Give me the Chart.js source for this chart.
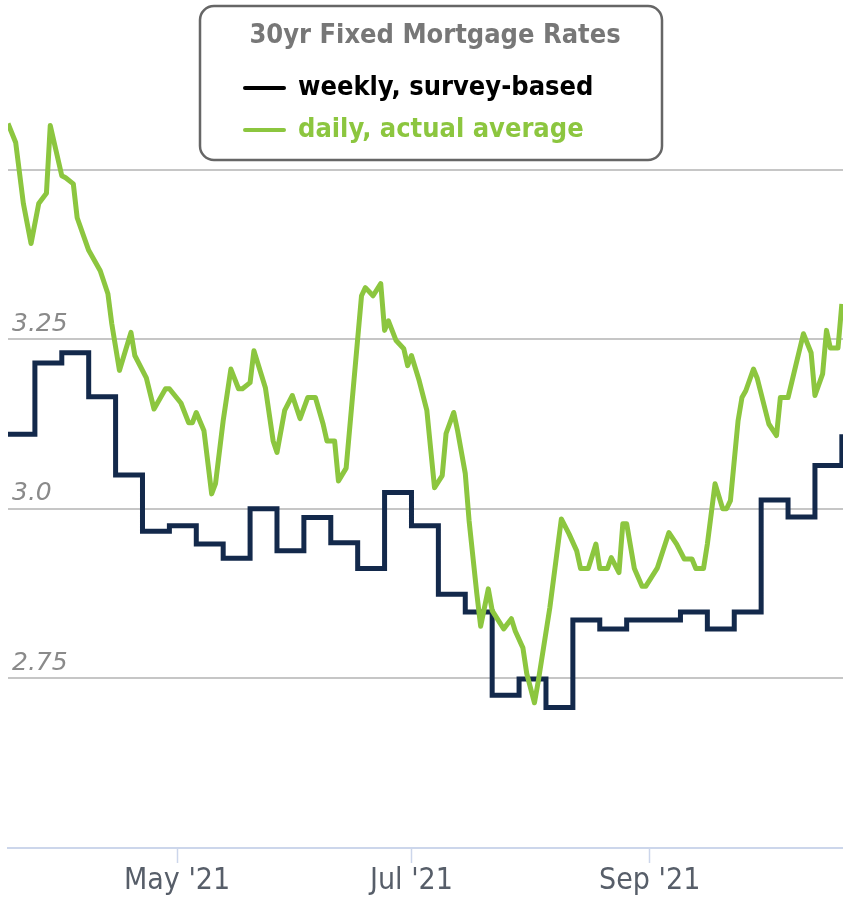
<!DOCTYPE html>
<html>
<head>
<meta charset="utf-8">
<title>30yr Fixed Mortgage Rates</title>
<script src="https://cdn.jsdelivr.net/npm/chart.js@4.4.1/dist/chart.umd.min.js"></script>
<style>
  html, body { margin: 0; padding: 0; background: #fff; }
  #wrap { width: 843px; height: 899px; }
</style>
</head>
<body>
<div id="wrap"><canvas id="chart" width="843" height="899"></canvas></div>
<script>
// weekly survey (Thursdays)
const weeklyDates = [
  "2021-03-18", "2021-03-25", "2021-04-01", "2021-04-08", "2021-04-15", "2021-04-22",
  "2021-04-29", "2021-05-06", "2021-05-13", "2021-05-20", "2021-05-27", "2021-06-03",
  "2021-06-10", "2021-06-17", "2021-06-24", "2021-07-01", "2021-07-08", "2021-07-15",
  "2021-07-22", "2021-07-29", "2021-08-05", "2021-08-12", "2021-08-19", "2021-08-26",
  "2021-09-02", "2021-09-09", "2021-09-16", "2021-09-23", "2021-09-30", "2021-10-07",
  "2021-10-14", "2021-10-21"
];
const weeklyRates = [
  3.11, 3.215, 3.23, 3.165, 3.05, 2.967,
  2.975, 2.948, 2.927, 3.0, 2.938, 2.987,
  2.95, 2.912, 3.024, 2.975, 2.874, 2.848,
  2.725, 2.749, 2.707, 2.836, 2.823, 2.836,
  2.836, 2.848, 2.823, 2.848, 3.013, 2.988,
  3.064, 3.11
];

// daily index
const dailyDates = [
  "2021-03-18", "2021-03-20", "2021-03-22", "2021-03-24", "2021-03-26", "2021-03-28",
  "2021-03-29", "2021-04-01", "2021-04-02", "2021-04-04", "2021-04-05", "2021-04-08",
  "2021-04-11", "2021-04-13", "2021-04-14", "2021-04-16", "2021-04-19", "2021-04-20",
  "2021-04-23", "2021-04-25", "2021-04-28", "2021-04-29", "2021-05-02", "2021-05-04",
  "2021-05-05", "2021-05-06", "2021-05-08", "2021-05-10", "2021-05-11", "2021-05-13",
  "2021-05-15", "2021-05-17", "2021-05-18", "2021-05-20", "2021-05-21", "2021-05-24",
  "2021-05-26", "2021-05-27", "2021-05-29", "2021-05-31", "2021-06-02", "2021-06-04",
  "2021-06-06", "2021-06-08", "2021-06-09", "2021-06-11", "2021-06-12", "2021-06-14",
  "2021-06-18", "2021-06-19", "2021-06-21", "2021-06-23", "2021-06-24", "2021-06-25",
  "2021-06-27", "2021-06-29", "2021-06-30", "2021-07-01", "2021-07-03", "2021-07-05",
  "2021-07-07", "2021-07-09", "2021-07-10", "2021-07-12", "2021-07-13", "2021-07-15",
  "2021-07-16", "2021-07-18", "2021-07-19", "2021-07-21", "2021-07-22", "2021-07-25",
  "2021-07-27", "2021-07-28", "2021-07-30", "2021-07-31", "2021-08-02", "2021-08-03",
  "2021-08-06", "2021-08-09", "2021-08-11", "2021-08-13", "2021-08-14", "2021-08-16",
  "2021-08-18", "2021-08-19", "2021-08-21", "2021-08-22", "2021-08-24", "2021-08-25",
  "2021-08-26", "2021-08-28", "2021-08-30", "2021-08-31", "2021-09-03", "2021-09-06",
  "2021-09-08", "2021-09-10", "2021-09-12", "2021-09-13", "2021-09-15", "2021-09-16",
  "2021-09-18", "2021-09-20", "2021-09-21", "2021-09-22", "2021-09-24", "2021-09-25",
  "2021-09-26", "2021-09-28", "2021-09-29", "2021-10-02", "2021-10-04", "2021-10-05",
  "2021-10-07", "2021-10-09", "2021-10-11", "2021-10-13", "2021-10-14", "2021-10-16",
  "2021-10-17", "2021-10-18", "2021-10-20", "2021-10-21"
];
const dailyRates = [
  3.568, 3.540, 3.450, 3.391, 3.450, 3.465,
  3.565, 3.491, 3.488, 3.479, 3.429, 3.381,
  3.351, 3.317, 3.273, 3.204, 3.260, 3.226,
  3.193, 3.147, 3.177, 3.177, 3.156, 3.127,
  3.127, 3.142, 3.115, 3.022, 3.037, 3.130,
  3.206, 3.177, 3.177, 3.186, 3.233, 3.178,
  3.100, 3.083, 3.145, 3.167, 3.133, 3.164,
  3.164, 3.125, 3.100, 3.100, 3.041, 3.060,
  3.314, 3.326, 3.314, 3.332, 3.263, 3.277,
  3.248, 3.236, 3.211, 3.226, 3.189, 3.145,
  3.031, 3.049, 3.111, 3.142, 3.115, 3.052,
  2.982, 2.875, 2.827, 2.882, 2.850, 2.823,
  2.838, 2.820, 2.795, 2.757, 2.714, 2.746,
  2.854, 2.985, 2.963, 2.938, 2.912, 2.912,
  2.948, 2.912, 2.912, 2.928, 2.906, 2.978,
  2.978, 2.912, 2.886, 2.886, 2.913, 2.965,
  2.948, 2.926, 2.926, 2.912, 2.912, 2.948,
  3.037, 3.000, 3.000, 3.012, 3.130, 3.164,
  3.174, 3.206, 3.192, 3.125, 3.108, 3.164,
  3.164, 3.211, 3.258, 3.230, 3.167, 3.199,
  3.263, 3.237, 3.237, 3.302
];

const xTickDates = ["2021-05-01", "2021-07-01", "2021-09-01"];
const xTickLabels = ["May '21", "Jul '21", "Sep '21"];
const yTickValues = [2.75, 3.0, 3.25, 3.5];
const yTickLabels = ["2.75", "3.0", "3.25", ""];
const legendTitle = "30yr Fixed Mortgage Rates";

function dayOfYear(s) {
  return (Date.parse(s) - Date.parse("2021-01-01")) / 86400000 + 1;
}

function toPoints(dates, values) {
  return dates.map((d, i) => ({ x: dayOfYear(d), y: values[i] }));
}

const xTickDays = xTickDates.map(dayOfYear);

// boxed legend drawn over the plot
const legendBox = {
  id: "legendBox",
  afterDraw(chart) {
    const ctx = chart.ctx;
    ctx.save();
    ctx.beginPath();
    ctx.roundRect(200, 6, 462, 154, 14);
    ctx.fillStyle = "#fff";
    ctx.fill();
    ctx.lineWidth = 2.5;
    ctx.strokeStyle = "#666";
    ctx.stroke();

    ctx.font = "bold 27px 'DejaVu Sans Condensed', 'DejaVu Sans', sans-serif";
    ctx.textBaseline = "middle";
    ctx.textAlign = "center";
    ctx.fillStyle = "#777";
    ctx.fillText(legendTitle, 435, 36);

    ctx.textAlign = "left";
    chart.data.datasets.forEach((ds, i) => {
      const y = 88 + i * 42;
      ctx.beginPath();
      ctx.moveTo(245, y);
      ctx.lineTo(284, y);
      ctx.lineWidth = 4;
      ctx.lineCap = "round";
      ctx.strokeStyle = ds.legendSwatch;
      ctx.stroke();
      ctx.fillStyle = ds.legendText;
      ctx.fillText(ds.label, 298, y);
    });
    ctx.restore();
  }
};

new Chart(document.getElementById("chart"), {
  type: "line",
  data: {
    datasets: [
      {
        label: "weekly, survey-based",
        data: toPoints(weeklyDates, weeklyRates),
        borderColor: "#13294b",
        borderWidth: 5,
        stepped: true,
        pointRadius: 0,
        order: 1,
        legendSwatch: "#000",
        legendText: "#000"
      },
      {
        label: "daily, actual average",
        data: toPoints(dailyDates, dailyRates),
        borderColor: "#8cc63f",
        borderWidth: 5,
        borderJoinStyle: "round",
        tension: 0,
        pointRadius: 0,
        order: 0,
        legendSwatch: "#8cc63f",
        legendText: "#8cc63f"
      }
    ]
  },
  options: {
    responsive: false,
    animation: false,
    devicePixelRatio: 1,
    layout: { padding: { left: 8, right: 0, top: 0, bottom: 0 } },
    plugins: {
      legend: { display: false },
      tooltip: { enabled: false }
    },
    scales: {
      x: {
        type: "linear",
        min: dayOfYear("2021-03-18"),
        max: 294.3,
        afterBuildTicks(axis) {
          axis.ticks = xTickDays.map((v) => ({ value: v }));
        },
        afterFit(axis) {
          axis.height = 51;
          axis.paddingLeft = 0;
          axis.paddingRight = 0;
        },
        grid: {
          drawOnChartArea: false,
          drawTicks: true,
          tickLength: 15,
          tickColor: "#ccd6eb",
          tickWidth: 1.5
        },
        border: { color: "#ccd6eb", width: 2 },
        ticks: {
          autoSkip: false,
          maxRotation: 0,
          padding: 0,
          color: "#575e69",
          font: { family: "'DejaVu Sans Condensed', sans-serif", size: 30 },
          callback: (v) => xTickLabels[xTickDays.indexOf(v)]
        }
      },
      y: {
        min: 2.5,
        max: 3.75,
        afterBuildTicks(axis) {
          axis.ticks = yTickValues.map((v) => ({ value: v }));
        },
        afterFit(axis) {
          axis.width = 0;
          axis.paddingTop = 0;
          axis.paddingBottom = 0;
        },
        grid: { color: "#c6c6c6", lineWidth: 2, drawTicks: false },
        border: { display: false },
        ticks: {
          mirror: true,
          padding: 4,
          labelOffset: -15,
          color: "#8a8a8a",
          font: { family: "'DejaVu Sans', sans-serif", size: 25, style: "italic" },
          callback: (v) => yTickLabels[yTickValues.indexOf(v)]
        }
      }
    }
  },
  plugins: [legendBox]
});
</script>
</body>
</html>
